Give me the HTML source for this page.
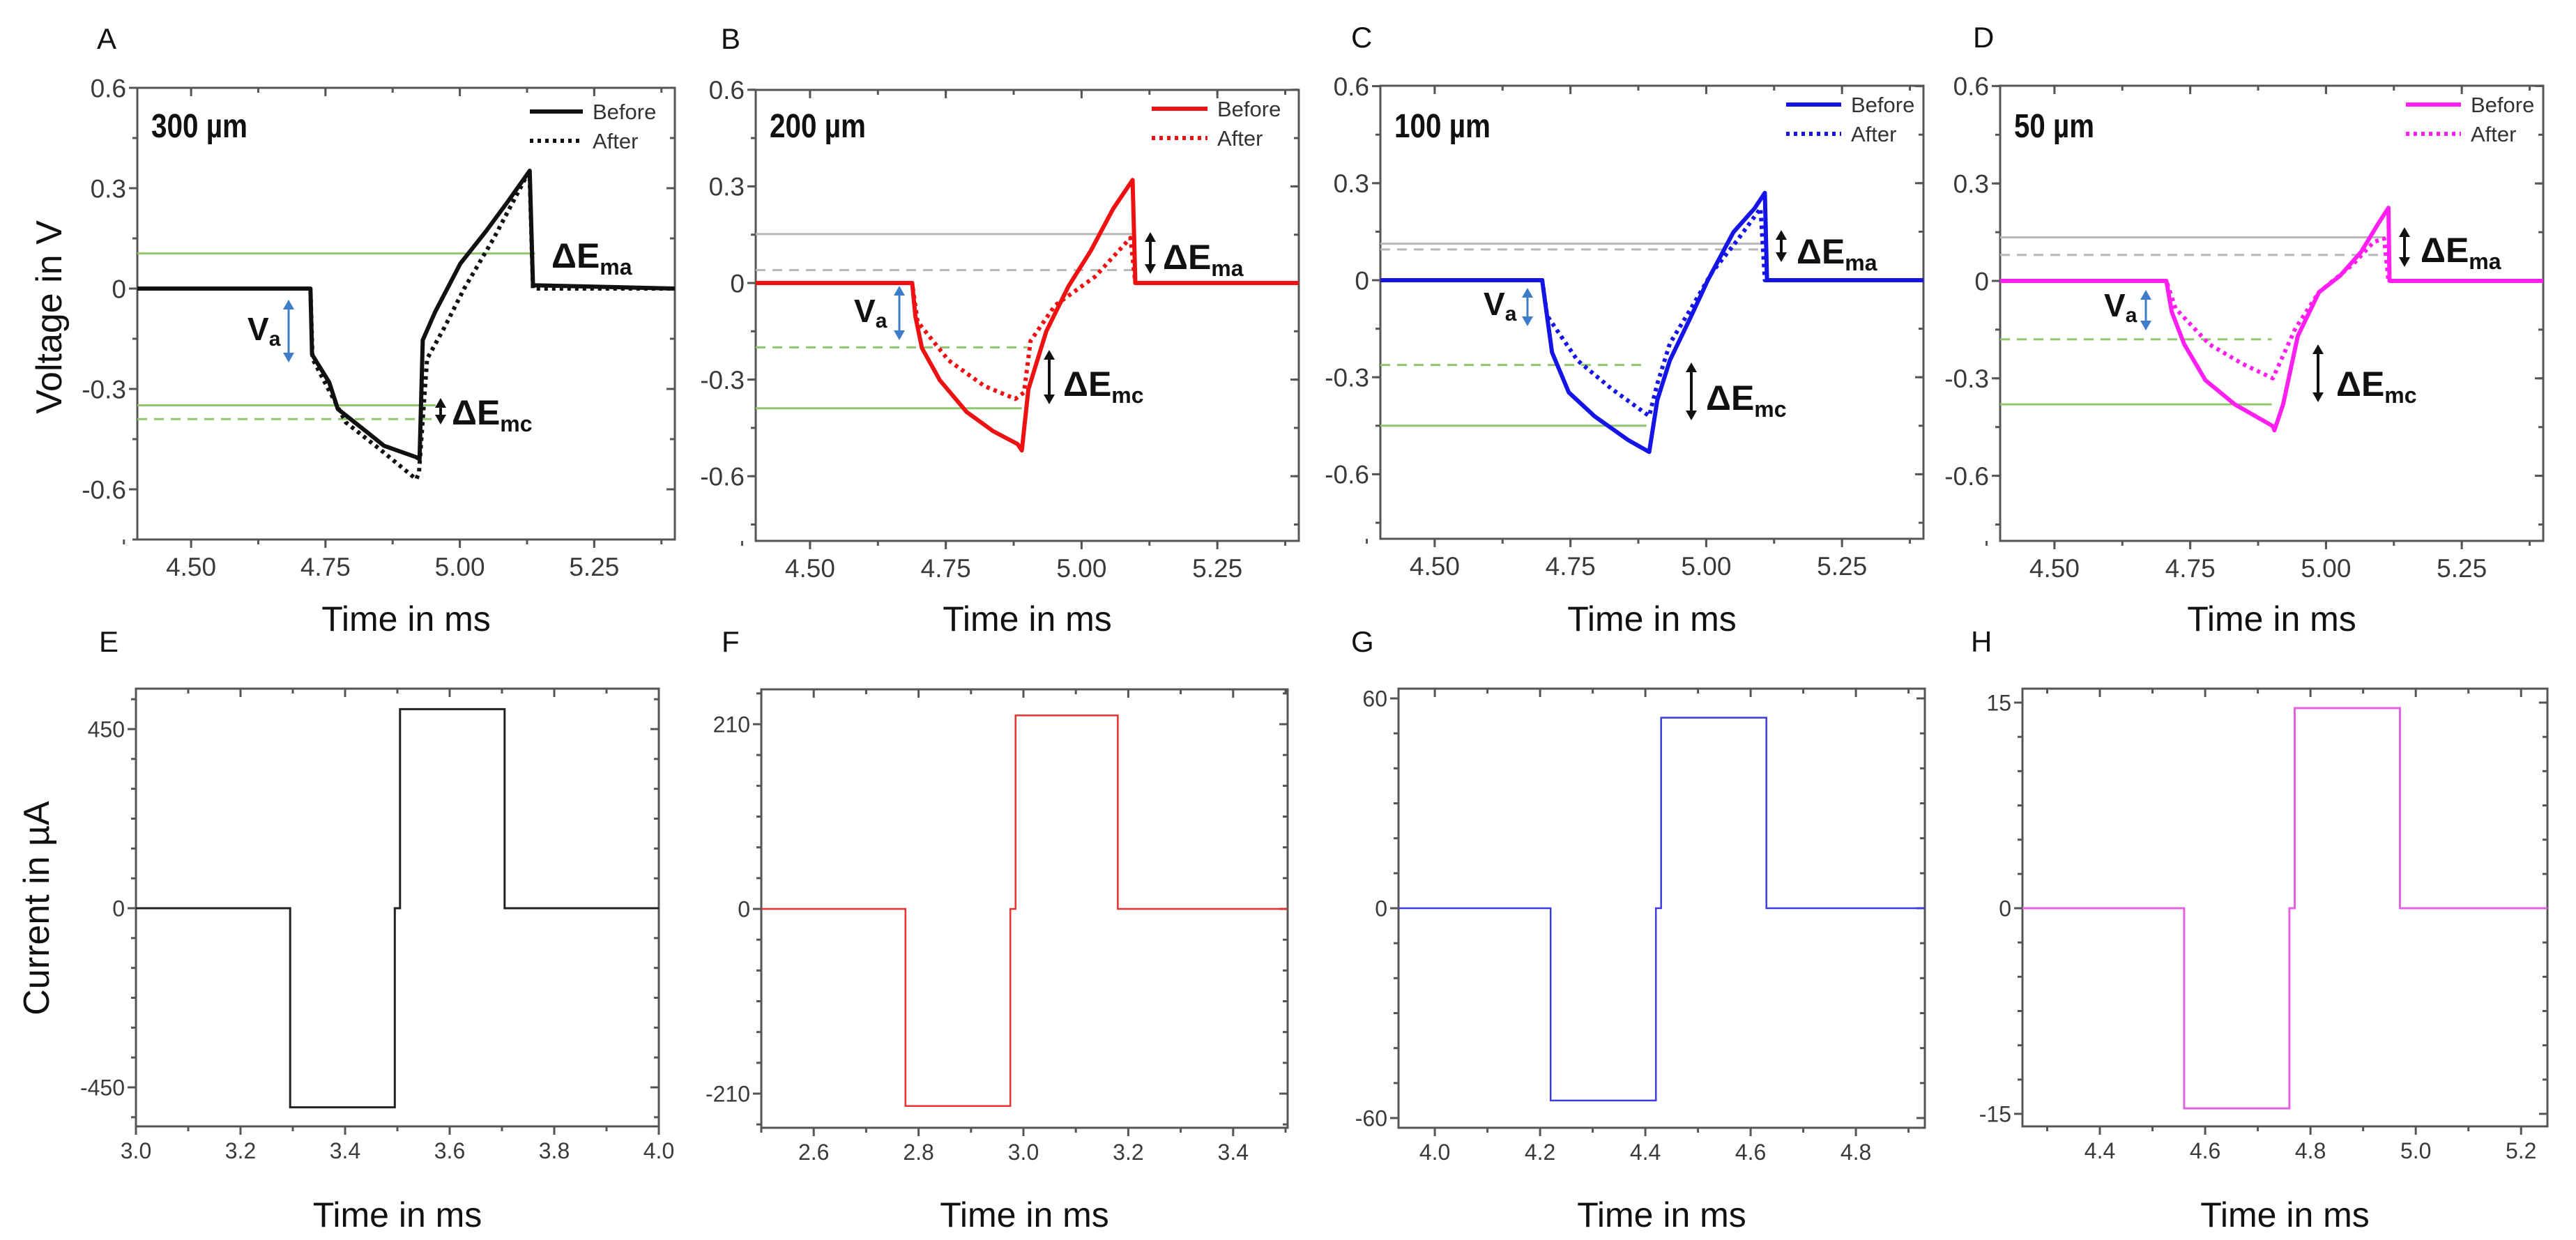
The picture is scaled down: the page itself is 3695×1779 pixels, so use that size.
<!DOCTYPE html>
<html><head><meta charset="utf-8">
<style>
html,body{margin:0;padding:0;background:#fff;}
svg{display:block;font-family:"Liberation Sans",Arial,sans-serif;}
</style></head>
<body>
<svg id="fig" xmlns="http://www.w3.org/2000/svg" width="3695" height="1779" viewBox="0 0 3695 1779">
<rect width="3695" height="1779" fill="#fff"/>
<g id="layer"></g>
</svg>
<script>
// ---------- DATA ----------
const aBeforeT=[4.40,4.722,4.725,4.757,4.773,4.828,4.859,4.919,4.925,4.931,4.954,5.001,5.048,5.087,5.130,5.136,5.40];
const aBeforeV=[0,0,-0.197,-0.28,-0.36,-0.43,-0.47,-0.504,-0.51,-0.154,-0.07,0.075,0.17,0.255,0.352,0.01,0];
const aAfterT=[4.40,4.722,4.726,4.788,4.851,4.919,4.924,4.939,4.970,5.008,5.063,5.122,5.130,5.136,5.40];
const aAfterV=[0,0,-0.21,-0.40,-0.48,-0.57,-0.55,-0.21,-0.12,0.0,0.15,0.33,0.33,0,0];
const bBeforeT=[4.40,4.688,4.694,4.706,4.739,4.788,4.837,4.882,4.890,4.902,4.935,4.976,5.017,5.058,5.094,5.099,5.40];
const bBeforeV=[0,0,-0.103,-0.202,-0.302,-0.40,-0.46,-0.50,-0.52,-0.33,-0.15,-0.01,0.10,0.23,0.32,0,0];
const bAfterT=[4.40,4.688,4.698,4.755,4.821,4.878,4.894,4.906,4.951,5.025,5.090,5.099,5.40];
const bAfterV=[0,0,-0.12,-0.24,-0.32,-0.36,-0.34,-0.18,-0.07,0.02,0.14,0,0];
const cBeforeT=[4.40,4.698,4.704,4.716,4.747,4.794,4.856,4.895,4.910,4.933,4.972,5.003,5.050,5.089,5.108,5.112,5.40];
const cBeforeV=[0,0,-0.075,-0.223,-0.347,-0.42,-0.494,-0.531,-0.37,-0.248,-0.112,0.0,0.148,0.222,0.27,0,0];
const cAfterT=[4.40,4.698,4.707,4.763,4.825,4.895,4.910,4.933,4.972,5.011,5.057,5.100,5.108,5.40];
const cAfterV=[0,0,-0.11,-0.248,-0.335,-0.42,-0.32,-0.196,-0.087,0.025,0.123,0.222,0,0];
const dBeforeT=[4.40,4.706,4.716,4.739,4.778,4.832,4.902,4.905,4.921,4.948,4.987,5.026,5.065,5.096,5.115,5.117,5.40];
const dBeforeV=[0,0,-0.096,-0.195,-0.306,-0.38,-0.447,-0.46,-0.38,-0.17,-0.035,0.016,0.09,0.176,0.225,0,0];
const dAfterT=[4.40,4.706,4.723,4.785,4.847,4.902,4.917,4.944,4.987,5.049,5.088,5.107,5.115,5.40];
const dAfterV=[0,0,-0.085,-0.195,-0.256,-0.30,-0.245,-0.145,-0.035,0.05,0.12,0.13,0,0];
const aRefLevels=[0.105,-0.349,-0.39], aRefEnds=[5.14,4.955,4.955], aRefKinds=['gs','gs','gd'];
const bRefLevels=[0.152,0.04,-0.20,-0.389], bRefEnds=[5.10,5.10,4.90,4.89], bRefKinds=['ks','kd','gd','gs'];
const cRefLevels=[0.113,0.095,-0.262,-0.45], cRefEnds=[5.10,5.10,4.89,4.89], cRefKinds=['ks','kd','gd','gs'];
const dRefLevels=[0.134,0.08,-0.18,-0.38], dRefEnds=[5.11,5.11,4.90,4.90], dRefKinds=['ks','kd','gd','gs'];
const eT=[3.0,3.295,3.295,3.495,3.495,3.505,3.505,3.705,3.705,4.0];
const eI=[0,0,-500,-500,0,0,500,500,0,0];
const fT=[2.5,2.775,2.775,2.975,2.975,2.985,2.985,3.18,3.18,3.504];
const fI=[0,0,-224,-224,0,0,220,220,0,0];
const gT=[3.931,4.22,4.22,4.42,4.42,4.43,4.43,4.63,4.63,4.931];
const gI=[0,0,-55,-55,0,0,54.5,54.5,0,0];
const hT=[4.253,4.56,4.56,4.76,4.76,4.77,4.77,4.97,4.97,5.25];
const hI=[0,0,-14.6,-14.6,0,0,14.6,14.6,0,0];
const vTicks=[0.6,0.3,0,-0.3,-0.6], vTickLabels=['0.6','0.3','0','-0.3','-0.6'];
const tTicksTop=[4.50,4.75,5.00,5.25], tTickLabelsTop=['4.50','4.75','5.00','5.25'];
const eXTicks=[3.0,3.2,3.4,3.6,3.8,4.0], eYTicks=[450,0,-450];
const fXTicks=[2.6,2.8,3.0,3.2,3.4], fYTicks=[210,0,-210];
const gXTicks=[4.0,4.2,4.4,4.6,4.8], gYTicks=[60,0,-60];
const hXTicks=[4.4,4.6,4.8,5.0,5.2], hYTicks=[15,0,-15];

// ---------- DRAWING ----------
const NS='http://www.w3.org/2000/svg';
const layer=document.getElementById('layer');
function mk(tag,attrs,parent){const e=document.createElementNS(NS,tag);for(const k in attrs)e.setAttribute(k,attrs[k]);(parent||layer).appendChild(e);return e;}
function scale(d0,d1,p0,p1){return v=>p0+(v-d0)*(p1-p0)/(d1-d0);}

function axes(g,x,y,box,xt,xl,xminor,yt,yl,yminor,fs,lblY){
  const fr=mk('rect',{x:box.l,y:box.t,width:box.r-box.l,height:box.b-box.t,fill:'none',stroke:'#555','stroke-width':3},g);
  
  xminor.forEach(v=>{const px=x(v);mk('line',{x1:px,x2:px,y1:box.b,y2:box.b+7,stroke:'#555','stroke-width':3},g);mk('line',{x1:px,x2:px,y1:box.t,y2:box.t+7,stroke:'#555','stroke-width':3},g);});
  xt.forEach((v,i)=>{const px=x(v);mk('line',{x1:px,x2:px,y1:box.b,y2:box.b+12,stroke:'#555','stroke-width':3},g);mk('line',{x1:px,x2:px,y1:box.t,y2:box.t+12,stroke:'#555','stroke-width':3},g);
    const t=mk('text',{x:px,y:lblY,'font-size':fs,'text-anchor':'middle',fill:'#3a3a3a'},g);t.textContent=xl[i];
    });
  yminor.forEach(v=>{const py=y(v);mk('line',{x1:box.l-7,x2:box.l,y1:py,y2:py,stroke:'#555','stroke-width':3},g);mk('line',{x1:box.r-7,x2:box.r,y1:py,y2:py,stroke:'#555','stroke-width':3},g);});
  yt.forEach((v,i)=>{const py=y(v);mk('line',{x1:box.l-12,x2:box.l,y1:py,y2:py,stroke:'#555','stroke-width':3},g);mk('line',{x1:box.r-12,x2:box.r,y1:py,y2:py,stroke:'#555','stroke-width':3},g);
    const t=mk('text',{x:box.l-16,y:py+fs*0.36,'font-size':fs,'text-anchor':'end',fill:'#3a3a3a'},g);t.textContent=yl[i];
    });
}
function range(a,b,s){const r=[];for(let v=a;v<=b+1e-9;v+=s)r.push(+v.toFixed(4));return r;}
function path(x,y,T,V){return T.map((t,i)=>(i?'L':'M')+x(t).toFixed(1)+' '+y(V[i]).toFixed(1)).join(' ');}
function label(txt,px,py,fs,name,extra){const t=mk('text',Object.assign({x:px,y:py,'font-size':fs,fill:'#111'},extra||{}));t.textContent=txt;return t;}
function dArrow(g,px,y1,y2,col,w){mk('line',{x1:px,x2:px,y1:y1+10,y2:y2-10,stroke:col,'stroke-width':w},g);
  mk('path',{d:`M${px-8} ${y1+14} L${px} ${y1} L${px+8} ${y1+14}Z`,fill:col},g);
  mk('path',{d:`M${px-8} ${y2-14} L${px} ${y2} L${px+8} ${y2-14}Z`,fill:col},g);}
function deltaE(g,px,py,sub,name){const t=mk('text',{x:px,y:py,'font-size':50,'font-weight':'bold',fill:'#111'},g);
  
  t.appendChild(document.createTextNode('ΔE'));const s=mk('tspan',{'font-size':32,dy:10},t);s.textContent=sub;}

const topPanels=[
 {id:'a',letter:'A',lx:139,ly:70,box:{l:197,r:968,t:126,b:774},y0:414,k:480,tx0:4.40,tx1:5.40,
  BT:aBeforeT,BV:aBeforeV,AT:aAfterT,AV:aAfterV,RL:aRefLevels,RE:aRefEnds,RK:aRefKinds,col:'#111',size:'300 µm',
  leg:{x1:760,x2:836,y:160},ema:{x:791,y:384,arrow:null},emc:{x:648,y:609,arrow:[632,571,609]},va:{x:355,y:488,arrow:[414,430,520]}},
 {id:'b',letter:'B',lx:1034,ly:70,box:{l:1084,r:1863,t:129,b:776},y0:406,k:462,tx0:4.40,tx1:5.40,
  BT:bBeforeT,BV:bBeforeV,AT:bAfterT,AV:bAfterV,RL:bRefLevels,RE:bRefEnds,RK:bRefKinds,col:'#ee1111',size:'200 µm',
  leg:{x1:1652,x2:1732,y:156},ema:{x:1668,y:386,arrow:[1650,333,393]},emc:{x:1525,y:568,arrow:[1505,502,580]},va:{x:1225,y:462,arrow:[1290,410,488]}},
 {id:'c',letter:'C',lx:1938,ly:68,box:{l:1980,r:2759,t:123,b:773},y0:402,k:464,tx0:4.40,tx1:5.40,
  BT:cBeforeT,BV:cBeforeV,AT:cAfterT,AV:cAfterV,RL:cRefLevels,RE:cRefEnds,RK:cRefKinds,col:'#1414e6',size:'100 µm',
  leg:{x1:2562,x2:2641,y:150},ema:{x:2577,y:378,arrow:[2555,330,376]},emc:{x:2447,y:588,arrow:[2426,520,603]},va:{x:2128,y:452,arrow:[2191,413,468]}},
 {id:'d',letter:'D',lx:2830,ly:68,box:{l:2869,r:3648,t:123,b:776},y0:403,k:466,tx0:4.40,tx1:5.40,
  BT:dBeforeT,BV:dBeforeV,AT:dAfterT,AV:dAfterV,RL:dRefLevels,RE:dRefEnds,RK:dRefKinds,col:'#ff1ff0',size:'50 µm',
  leg:{x1:3451,x2:3530,y:150},ema:{x:3472,y:376,arrow:[3449,326,383]},emc:{x:3351,y:568,arrow:[3325,494,577]},va:{x:3018,y:454,arrow:[3078,416,474]}}
];
topPanels.forEach(p=>{
  const g=mk('g',{});
  const x=scale(p.tx0,p.tx1,p.box.l,p.box.r);
  const y=v=>p.y0-v*p.k;
  label(p.letter,p.lx,p.ly,42,'panel-label-'+p.letter.toLowerCase());
  axes(g,x,y,p.box,tTicksTop,tTickLabelsTop,range(4.375,5.4,0.125),vTicks,vTickLabels,range(-0.75,0.6,0.15),37,p.box.b+52);
  p.RL.forEach((lv,i)=>{const k=p.RK[i];const col=k[0]==='g'?'#8cc86c':'#b8b8b8';
    const l=mk('line',{x1:p.box.l,x2:x(p.RE[i]),y1:y(lv),y2:y(lv),stroke:col,'stroke-width':3},g);
    if(k[1]==='d')l.setAttribute('stroke-dasharray','14 10');
    });
  const after=mk('path',{d:path(x,y,p.AT,p.AV),fill:'none',stroke:p.col,'stroke-width':6,'stroke-dasharray':'5 6','stroke-linejoin':'round'},g);
  
  const before=mk('path',{d:path(x,y,p.BT,p.BV),fill:'none',stroke:p.col,'stroke-width':6,'stroke-linejoin':'round'},g);
  
  const s=mk('text',{x:p.box.l+20,y:197,'font-size':48,'font-weight':'bold',fill:'#111',textLength:p.size.length*23,lengthAdjust:'spacingAndGlyphs'},g);
  s.textContent=p.size;
  const lg=mk('g',{},g);
  mk('line',{x1:p.leg.x1,x2:p.leg.x2,y1:p.leg.y,y2:p.leg.y,stroke:p.col,'stroke-width':6},lg);
  mk('line',{x1:p.leg.x1,x2:p.leg.x2,y1:p.leg.y+42,y2:p.leg.y+42,stroke:p.col,'stroke-width':6,'stroke-dasharray':'5 6'},lg);
  const t1=mk('text',{x:p.leg.x2+14,y:p.leg.y+11,'font-size':31,fill:'#333'},lg);t1.textContent='Before';
  
  const t2=mk('text',{x:p.leg.x2+14,y:p.leg.y+53,'font-size':31,fill:'#333'},lg);t2.textContent='After';
  
  deltaE(g,p.ema.x,p.ema.y,'ma','delta-e-ma-label');
  if(p.ema.arrow)dArrow(g,p.ema.arrow[0],p.ema.arrow[1],p.ema.arrow[2],'#111',4);
  deltaE(g,p.emc.x,p.emc.y,'mc','delta-e-mc-label');
  dArrow(g,p.emc.arrow[0],p.emc.arrow[1],p.emc.arrow[2],'#111',4);
  const va=mk('text',{x:p.va.x,y:p.va.y,'font-size':46,'font-weight':'bold',fill:'#111'},g);
  va.appendChild(document.createTextNode('V'));const vs=mk('tspan',{'font-size':30,dy:8},va);vs.textContent='a';
  
  dArrow(g,p.va.arrow[0],p.va.arrow[1],p.va.arrow[2],'#3d7cc9',3);
  label('Time in ms',(p.box.l+p.box.r)/2,905,50,'x-axis-title',{'text-anchor':'middle'});
});
label('Voltage in V',0,0,52,'y-axis-title-voltage',{'text-anchor':'middle',transform:'translate(88,455) rotate(-90)'});

const botPanels=[
 {letter:'E',lx:142,ly:935,box:{l:195,r:945,t:988,b:1616},tx0:3.0,tx1:4.0,zero:1303,pv:450,ppx:1046,T:eT,I:eI,xt:eXTicks,xl:['3.0','3.2','3.4','3.6','3.8','4.0'],xm:range(3.1,3.9,0.2),yt:eYTicks,ym:range(-525,525,75),col:'#222',w:3},
 {letter:'F',lx:1035,ly:935,box:{l:1092,r:1847,t:989,b:1618},tx0:2.5,tx1:3.504,zero:1304,pv:210,ppx:1039,T:fT,I:fI,xt:fXTicks,xl:['2.6','2.8','3.0','3.2','3.4'],xm:range(2.5,3.5,0.2),yt:fYTicks,ym:range(-245,245,35),col:'#e83030',w:2.5},
 {letter:'G',lx:1938,ly:935,box:{l:2006,r:2761,t:988,b:1618},tx0:3.931,tx1:4.931,zero:1303,pv:60,ppx:1002,T:gT,I:gI,xt:gXTicks,xl:['4.0','4.2','4.4','4.6','4.8'],xm:range(4.1,4.9,0.2),yt:gYTicks,ym:range(-60,60,10),col:'#3c3ce0',w:2.5},
 {letter:'H',lx:2827,ly:935,box:{l:2901,r:3654,t:988,b:1616},tx0:4.253,tx1:5.25,zero:1303,pv:15,ppx:1008,T:hT,I:hI,xt:hXTicks,xl:['4.4','4.6','4.8','5.0','5.2'],xm:range(4.3,5.1,0.2),yt:hYTicks,ym:range(-15,15,2.5),col:'#e264e2',w:3}
];
botPanels.forEach(p=>{
  const g=mk('g',{});
  const x=scale(p.tx0,p.tx1,p.box.l,p.box.r);
  const y=scale(0,p.pv,p.zero,p.ppx);
  label(p.letter,p.lx,p.ly,42,'panel-label-'+p.letter.toLowerCase());
  axes(g,x,y,p.box,p.xt,p.xl,p.xm,p.yt,p.yt.map(String),p.ym,32,p.box.b+46);
  const c=mk('path',{d:path(x,y,p.T,p.I),fill:'none',stroke:p.col,'stroke-width':p.w},g);
  
  label('Time in ms',(p.box.l+p.box.r)/2,1760,50,'x-axis-title',{'text-anchor':'middle'});
});
label('Current in µA',0,0,52,'y-axis-title-current',{'text-anchor':'middle',transform:'translate(70,1303) rotate(-90)'});
</script>
</body></html>
